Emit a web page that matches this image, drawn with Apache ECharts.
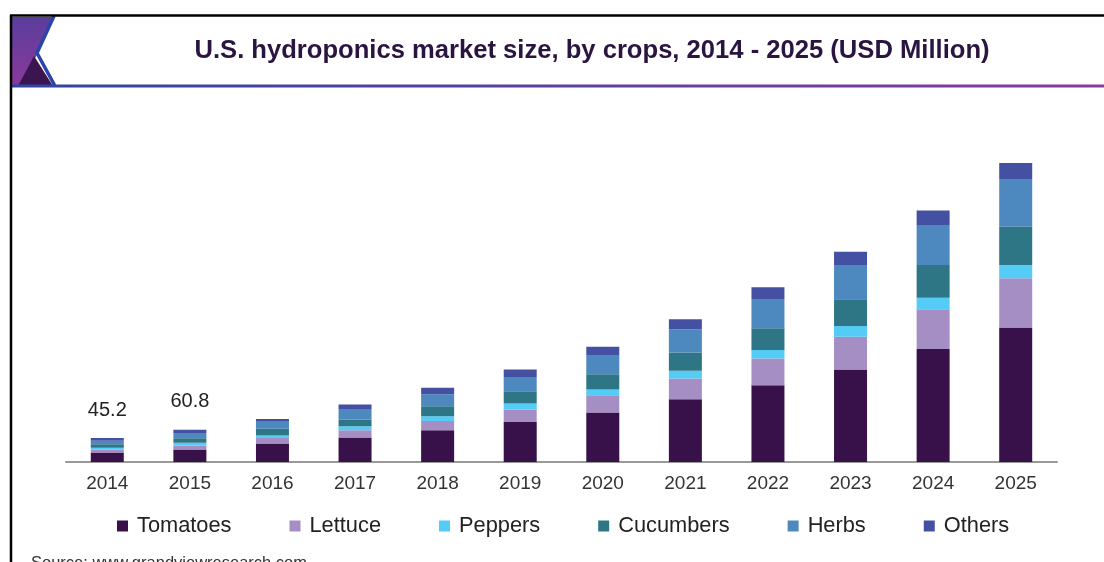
<!DOCTYPE html>
<html>
<head>
<meta charset="utf-8">
<title>U.S. hydroponics market size, by crops</title>
<script src="https://cdn.jsdelivr.net/npm/echarts@6/dist/echarts.min.js"></script>
<style>
  html, body { margin: 0; padding: 0; background: #ffffff; }
  #chart { width: 1104px; height: 562px; }
</style>
</head>
<body>
<div id="chart"></div>
<script>
// Years on the category axis
const years = ['2014', '2015', '2016', '2017', '2018', '2019', '2020', '2021', '2022', '2023', '2024', '2025'];

// Market size by crop, USD Million
const tomatoes  = [18.1, 23.4, 34.8, 46.1, 59.9, 75.6, 93.4, 118.5, 145.0, 174.6, 213.0, 254.0];
const lettuce   = [5.1, 7.6, 10.6, 13.8, 17.6, 23.4, 32.7, 39.1, 50.5, 61.6, 75.0, 92.6];
const peppers   = [3.6, 5.4, 4.6, 7.6, 8.9, 11.3, 10.8, 14.4, 15.7, 20.2, 21.9, 25.1];
const cucumbers = [6.6, 8.6, 12.7, 12.7, 18.9, 23.2, 28.9, 34.8, 41.0, 50.5, 61.8, 72.4];
const herbs     = [6.5, 9.9, 13.2, 20.0, 22.6, 27.0, 35.9, 43.5, 55.4, 64.8, 75.6, 90.0];
const others    = [5.3, 5.9, 5.1, 8.3, 12.0, 14.0, 15.7, 18.9, 22.1, 25.1, 27.0, 30.2];

// Years whose stack total is printed above the bar
const labeledYears = ['2014', '2015'];

const cropNames = ['Tomatoes', 'Lettuce', 'Peppers', 'Cucumbers', 'Herbs', 'Others'];
const cropColors = ['#38104a', '#a58ec4', '#55ccf5', '#2e7585', '#4d89bf', '#4451a3'];
const cropValues = [tomatoes, lettuce, peppers, cucumbers, herbs, others];

const totals = years.map((_, i) => cropValues.reduce((s, arr) => s + arr[i], 0));

const FONT = '"Liberation Sans", Arial, sans-serif';

const chart = echarts.init(document.getElementById('chart'), null, { renderer: 'canvas' });

const series = cropNames.map((name, k) => ({
  name: name,
  type: 'bar',
  stack: 'total',
  barWidth: 33,
  data: cropValues[k],
  itemStyle: { color: cropColors[k] },
  emphasis: { disabled: true },
  label: k === cropNames.length - 1 ? {
    show: true,
    position: 'top',
    distance: 18,
    fontFamily: FONT,
    fontSize: 20,
    lineHeight: 20,
    color: '#222222',
    formatter: (p) => labeledYears.includes(years[p.dataIndex]) ? totals[p.dataIndex].toFixed(1) : ''
  } : { show: false }
}));

const option = {
  backgroundColor: '#ffffff',
  animation: false,
  textStyle: { fontFamily: FONT },
  title: {
    text: 'U.S. hydroponics market size, by crops, 2014 - 2025 (USD Million)',
    left: 587,
    top: 46,
    textAlign: 'center',
    textVerticalAlign: 'middle',
    textStyle: {
      fontFamily: FONT,
      fontSize: 25.6,
      fontWeight: 'bold',
      color: '#2a1540'
    }
  },
  legend: {
    data: cropNames,
    left: 112,
    top: 510,
    icon: 'rect',
    itemWidth: 11,
    itemHeight: 11,
    itemGap: 58,
    textStyle: {
      fontFamily: FONT,
      fontSize: 21.8,
      color: '#222222',
      padding: [0, 0, 0, 4]
    }
  },
  grid: {
    left: 66,
    right: 47,
    top: 144,
    bottom: 100,
    containLabel: false
  },
  xAxis: {
    type: 'category',
    data: years,
    axisTick: { show: false },
    axisLine: { show: true, lineStyle: { color: '#999999', width: 2 } },
    axisLabel: {
      fontFamily: FONT,
      fontSize: 19,
      color: '#333333',
      margin: 12
    }
  },
  yAxis: {
    type: 'value',
    min: 0,
    max: 600,
    show: false,
    splitLine: { show: false }
  },
  series: series,
  graphic: [
    // header band: purple wedge, dark triangle, blue chevron
    {
      type: 'polygon',
      shape: { points: [[12, 17], [53, 17], [38, 53], [19, 86], [12, 86]] },
      style: {
        fill: new echarts.graphic.LinearGradient(0, 0, 0, 1, [
          { offset: 0, color: '#5b3d9d' },
          { offset: 1, color: '#8a3a9a' }
        ])
      },
      silent: true
    },
    {
      type: 'polygon',
      shape: { points: [[34, 56], [18, 86], [53, 86]] },
      style: { fill: '#3a1550' },
      silent: true
    },
    {
      type: 'polyline',
      shape: { points: [[54, 16], [37, 53], [55, 86]] },
      style: { stroke: '#2a45a8', lineWidth: 3.5, fill: null },
      silent: true
    },
    // header underline
    {
      type: 'line',
      shape: { x1: 12, y1: 86, x2: 1104, y2: 86 },
      style: {
        stroke: new echarts.graphic.LinearGradient(0, 0, 1, 0, [
          { offset: 0, color: '#2e45a4' },
          { offset: 1, color: '#8a3aa0' }
        ]),
        lineWidth: 3
      },
      silent: true
    },
    // frame
    {
      type: 'line',
      shape: { x1: 10, y1: 15.5, x2: 1104, y2: 15.5 },
      style: { stroke: '#000000', lineWidth: 2.5 },
      silent: true
    },
    {
      type: 'line',
      shape: { x1: 11, y1: 15, x2: 11, y2: 562 },
      style: { stroke: '#000000', lineWidth: 2.5 },
      silent: true
    },
    // source line
    {
      type: 'text',
      left: 31,
      top: 555,
      style: {
        text: 'Source: www.grandviewresearch.com',
        font: '16.5px "Liberation Sans", Arial, sans-serif',
        fill: '#333333'
      },
      silent: true
    }
  ]
};

chart.setOption(option);
</script>
</body>
</html>
